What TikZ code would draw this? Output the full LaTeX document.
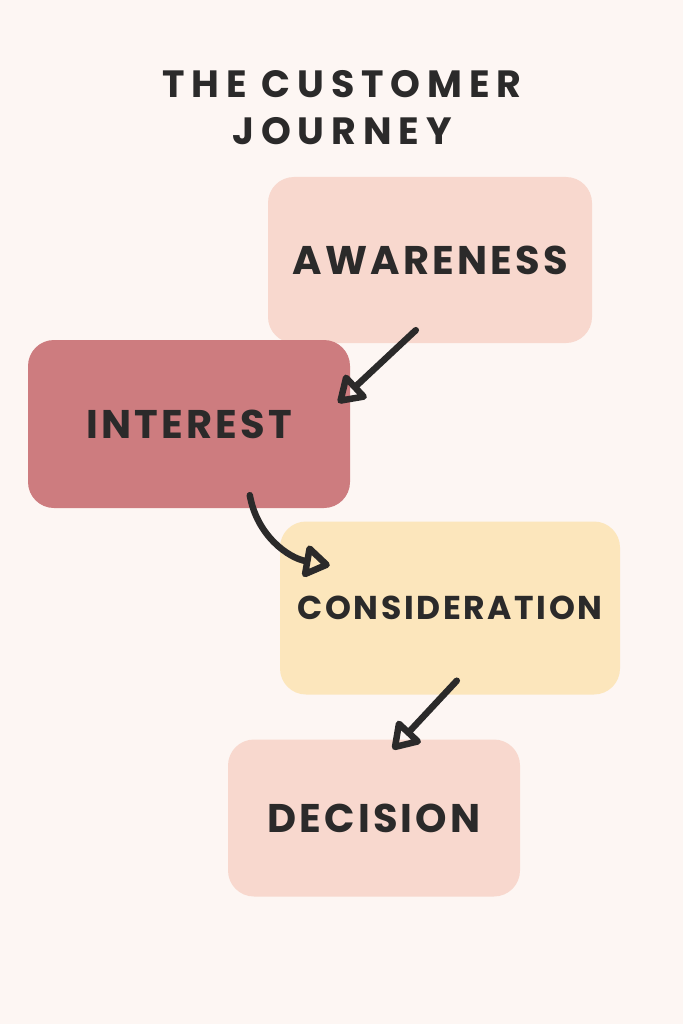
\documentclass[tikz,border=0pt]{standalone}
\usepackage{fontspec}
\setmainfont{Poppins}
\usetikzlibrary{arrows.meta, positioning}
\definecolor{paper}{HTML}{FDF6F3}
\definecolor{ink}{HTML}{2B2A2A}
\definecolor{blush}{HTML}{F8D8CE}
\definecolor{rosewood}{HTML}{CD7C7F}
\definecolor{butter}{HTML}{FCE6BC}
\tikzset{
    x=1pt, y=-1pt, % pixel-like units, y runs downwards
    stage/.style={rounded corners=26pt, inner sep=0pt, text=ink, font=\fontsize{40}{40}\selectfont\bfseries\addfontfeature{LetterSpace=8}}, % sets the properties for each box
    flow/.style={-{Triangle[open, length=29pt, width=36pt, round]}, line width=6.5pt, draw=ink, line cap=round, line join=round}, % sets the arrows
    }
\begin{document}
\begin{tikzpicture}
\fill[paper] (0,0) rectangle (683,1024);
\useasboundingbox (0,0) rectangle (683,1024);
\node[text=ink, align=center, font=\fontsize{38}{47}\selectfont\bfseries\addfontfeature{LetterSpace=18}] (title) at (342,108) {THE CUSTOMER\\JOURNEY};
\node[stage, fill=blush, minimum width=324pt, minimum height=166pt] (aware) at (430,260) {AWARENESS};
\node[stage, fill=rosewood, minimum width=322pt, minimum height=168pt] (interest) at (189,424) {INTEREST};
\node[stage, fill=butter, minimum width=340pt, minimum height=173pt, font=\fontsize{33}{33}\selectfont\bfseries\addfontfeature{LetterSpace=8}] (consider) at (450,608) {CONSIDERATION};
\node[stage, fill=blush, minimum width=292pt, minimum height=157pt] (decide) at (374,818) {DECISION};

\coordinate (a1) at ([xshift=148pt, yshift=13pt]aware.south west);
\coordinate (i1) at ([xshift=-12pt, yshift=-63pt]interest.north east);
\coordinate (i2) at ([xshift=222pt, yshift=13pt]interest.south west);
\coordinate (c1) at ([xshift=50pt, yshift=-44pt]consider.north west);
\coordinate (c2) at ([xshift=177pt, yshift=14pt]consider.south west);
\coordinate (d1) at ([xshift=165pt, yshift=-10pt]decide.north west);

\draw[flow] (a1) -- (i1);
\draw[flow] (i2) to[out=-80, in=170] (c1);
\draw[flow] (c2) -- (d1);
\end{tikzpicture}
\end{document}
